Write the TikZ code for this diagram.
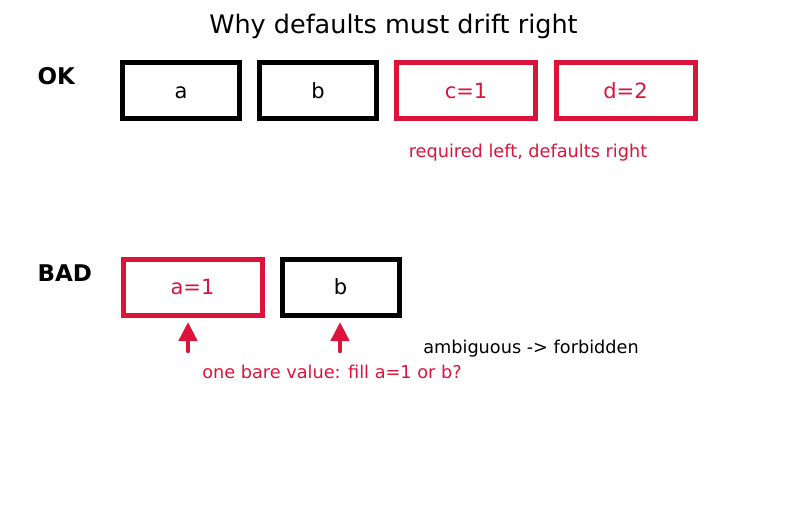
\documentclass[tikz,border=0pt]{standalone}
\usepackage{fontspec}
\setmainfont{DejaVu Sans}
\usetikzlibrary{arrows.meta}
\definecolor{crim}{HTML}{DC143C}
\tikzset{
    argbox/.style={draw=black, line width=5pt, minimum width=#1, minimum height=56pt, inner sep=0pt, text height=15pt, text depth=0pt, font=\fontsize{21}{24}\selectfont},
    argbox/.default=117pt,
    defbox/.style={argbox=#1, draw=crim, text=crim},
    defbox/.default=139pt,
    rowlbl/.style={anchor=west, font=\fontsize{23}{26}\selectfont\bfseries},
    note/.style={font=\fontsize{17.7}{21}\selectfont},
    pointer/.style={-{Triangle[length=19pt 0 0, width=18pt 0 0]}, line width=4.5pt, line cap=round, crim}
}
\begin{document}
\begin{tikzpicture}[x=1pt, y=-1pt]
    \useasboundingbox (0,0) rectangle (787,512);
    \node (title) at (393.5,26) {\fontsize{25.5}{30}\selectfont Why defaults must drift right};

    % required first, then defaults
    \node[rowlbl] (ok) at (34,76) {OK};
    \node[argbox] (a) at (181,90.5) {a};
    \node[argbox] (b) at (318,90.5) {b};
    \node[defbox] (c) at (466,90.5) {c=1};
    \node[defbox] (d) at (625.5,90.5) {d=2};
    \node[note, text=crim] (oknote) at (528,153) {required left, defaults right};

    % default before a required one
    \node[rowlbl] (bad) at (34,273) {BAD};
    \node[defbox] (a1) at (192.5,287) {a=1};
    \node[argbox] (b1) at (340.5,287) {b};
    \coordinate (pa) at (188,351);
    \coordinate (pb) at (340,351);
    \draw[pointer] (pa) -- ++(0,-29);
    \draw[pointer] (pb) -- ++(0,-29);
    \node[note] (amb) at (531,349) {ambiguous -> forbidden};
    \node[note, text=crim] (badnote) at (332,372) {one bare value: fill a=1 or b?};
\end{tikzpicture}
\end{document}
